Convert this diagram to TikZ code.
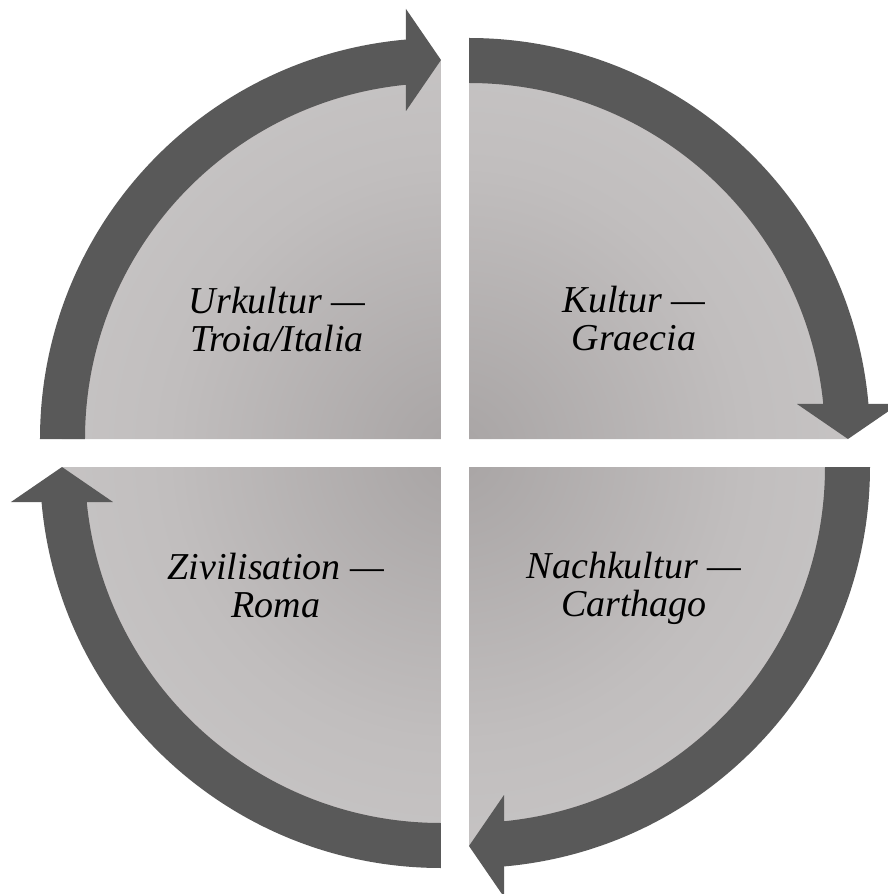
\documentclass[tikz,border=0pt]{standalone}
\usepackage{fontspec}
\setmainfont{Liberation Serif}
\usetikzlibrary{calc}
\definecolor{bandgray}{HTML}{595959}
\definecolor{clight}{RGB}{209,207,208}
\definecolor{cmid}{RGB}{204,202,202}
\definecolor{cmid2}{RGB}{193,190,190}
\definecolor{cdark}{RGB}{168,164,164}
\pgfdeclareradialshading{quadshade}{\pgfpoint{0bp}{0bp}}{color(0bp)=(cdark); color(18bp)=(cmid2); color(34bp)=(cmid); color(48bp)=(clight); color(100bp)=(clight)}
\tikzset{
  band/.style={fill=bandgray},
  quadtext/.style={font=\itshape\fontsize{38}{38}\selectfont, align=center, text=black, inner sep=0pt},
}
\newcommand\quadarrow{%
  \fill[band] ($(-14,14)+(180:401pt)$) arc[start angle=180,end angle=94.5,radius=401pt]
     -- ($(-14,14)+(94.5:356pt)$) arc[start angle=94.5,end angle=180,radius=356pt] -- cycle;
  \fill[band] (-14,393) -- (-49,444) -- (-49,342) -- cycle;
}
\begin{document}
\begin{tikzpicture}[x=1pt,y=1pt]
\useasboundingbox (-455,-441) rectangle (433,453);
\clip (-455,-441) rectangle (433,453);
\fill[white] (-455,-441) rectangle (433,453);
\begin{scope}
  \clip (-14,14) -- ($(-14,14)+(180:379pt)$) arc[start angle=180,end angle=90,radius=379pt] -- cycle
        (14,14) -- ($(14,14)+(90:379pt)$) arc[start angle=90,end angle=0,radius=379pt] -- cycle
        (14,-14) -- ($(14,-14)+(0:379pt)$) arc[start angle=0,end angle=-90,radius=379pt] -- cycle
        (-14,-14) -- ($(-14,-14)+(-90:379pt)$) arc[start angle=-90,end angle=-180,radius=379pt] -- cycle;
  \shade[shading=quadshade] (0,0) circle[radius=401pt];
\end{scope}
\begin{scope}\quadarrow\end{scope}
\begin{scope}[rotate=-90]\quadarrow\end{scope}
\begin{scope}[rotate=-180]\quadarrow\end{scope}
\begin{scope}[rotate=-270]\quadarrow\end{scope}
\node[quadtext] (urkultur) at (-178,133) {Urkultur —\\Troia/Italia};
\node[quadtext] (kultur) at (179,134) {Kultur —\\Graecia};
\node[quadtext] (zivilisation) at (-179,-133) {Zivilisation —\\Roma};
\node[quadtext] (nachkultur) at (179,-135) {Nachkultur —\\Carthago};
\end{tikzpicture}
\end{document}
